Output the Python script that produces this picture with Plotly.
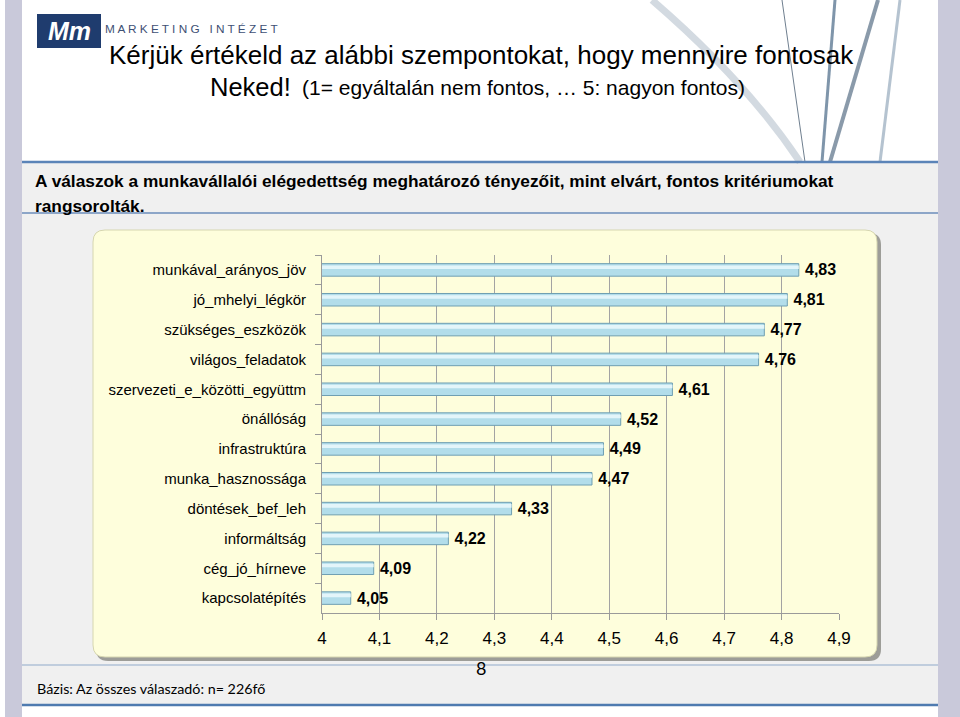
import plotly.graph_objects as go

# ---------------- data ----------------
categories = [
    "munkával_arányos_jöv",
    "jó_mhelyi_légkör",
    "szükséges_eszközök",
    "világos_feladatok",
    "szervezeti_e_közötti_együttm",
    "önállóság",
    "infrastruktúra",
    "munka_hasznossága",
    "döntések_bef_leh",
    "informáltság",
    "cég_jó_hírneve",
    "kapcsolatépítés",
]
values = [4.83, 4.81, 4.77, 4.76, 4.61, 4.52, 4.49, 4.47, 4.33, 4.22, 4.09, 4.05]
tick_values = [4.0, 4.1, 4.2, 4.3, 4.4, 4.5, 4.6, 4.7, 4.8, 4.9]
tick_labels = ["4", "4,1", "4,2", "4,3", "4,4", "4,5", "4,6", "4,7", "4,8", "4,9"]

value_labels = ["\u2009" + f"{v:.2f}".replace(".", ",") for v in values]

W, H = 960, 717
NARROW = "Liberation Sans Narrow, Arial Narrow, Liberation Sans, sans-serif"
SANS = "Liberation Sans, Arial, sans-serif"


def px(x):
    return x / W


def py(y):
    return 1 - y / H


def rect(x0, y0, x1, y1, fill, line=None, lw=0):
    return dict(type="rect", xref="paper", yref="paper", layer="below",
                x0=px(x0), x1=px(x1), y0=py(y1), y1=py(y0),
                fillcolor=fill, line=dict(color=line or fill, width=lw))


def hline(x0, x1, y, color, width):
    return dict(type="line", xref="paper", yref="paper", layer="below",
                x0=px(x0), x1=px(x1), y0=py(y), y1=py(y),
                line=dict(color=color, width=width))


def rounded(x0, y0, x1, y1, r):
    pts = [
        f"M {px(x0 + r)},{py(y0)}",
        f"L {px(x1 - r)},{py(y0)}",
        f"Q {px(x1)},{py(y0)} {px(x1)},{py(y0 + r)}",
        f"L {px(x1)},{py(y1 - r)}",
        f"Q {px(x1)},{py(y1)} {px(x1 - r)},{py(y1)}",
        f"L {px(x0 + r)},{py(y1)}",
        f"Q {px(x0)},{py(y1)} {px(x0)},{py(y1 - r)}",
        f"L {px(x0)},{py(y0 + r)}",
        f"Q {px(x0)},{py(y0)} {px(x0 + r)},{py(y0)} Z",
    ]
    return " ".join(pts)


shapes = []
# slide backgrounds
shapes.append(rect(22, 163, 938, 665, "#F0F0F0"))
shapes.append(rect(22, 665, 938, 705, "#F0F0F0"))
shapes.append(rect(5, 0, 22, 717, "#C9C9DA"))
shapes.append(rect(938, 0, 960, 717, "#C9C9DA"))
# decorative strokes in header
shapes.append(dict(type="path", xref="paper", yref="paper", layer="below",
                   path=f"M {px(652)},{py(0)} Q {px(745)},{py(80)} {px(800)},{py(162)}",
                   line=dict(color="rgba(175,188,200,0.55)", width=7)))
for (xa, xb, col, w) in [(782, 805, "#6F7F8F", 1), (835, 822, "#7F95AA", 3),
                         (878, 830, "#8A9AAA", 4), (900, 880, "#B5C3D0", 3)]:
    shapes.append(dict(type="line", xref="paper", yref="paper", layer="below",
                       x0=px(xa), x1=px(xb), y0=py(0), y1=py(162),
                       line=dict(color=col, width=w)))
# separator lines
shapes.append(hline(22, 938, 162, "#5B84B8", 2.5))
shapes.append(hline(22, 938, 213, "#6C8EBB", 1.5))
shapes.append(hline(22, 938, 665, "#8FA9C9", 1.2))
shapes.append(hline(22, 938, 705, "#4F7BB0", 2.5))
# logo
shapes.append(rect(37, 14, 101, 48, "#1F3C6E"))
# chart frame with shadow
shapes.append(dict(type="path", xref="paper", yref="paper", layer="below",
                   path=rounded(96, 233, 881, 661, 12),
                   fillcolor="rgba(90,90,80,0.55)", line=dict(width=0)))
shapes.append(dict(type="path", xref="paper", yref="paper", layer="below",
                   path=rounded(93, 230, 877, 657, 12),
                   fillcolor="#FEFEDC", line=dict(color="#D6D6B0", width=1)))

fig = go.Figure()
fig.add_trace(go.Bar(
    y=categories, x=values, orientation="h",
    width=0.42, offset=-0.21,
    marker=dict(color="#B2DDEA", line=dict(color="#6F9FB2", width=1)),
    text=value_labels, textposition="outside", cliponaxis=False,
    constraintext="none",
    textfont=dict(family=NARROW, size=16, color="#000000", weight="bold"),
    hoverinfo="skip", showlegend=False,
))
fig.add_trace(go.Bar(
    y=categories, x=values, orientation="h",
    width=0.12, offset=-0.15,
    marker=dict(color="#E3F5FA", line=dict(width=0)),
    hoverinfo="skip", showlegend=False,
))

annotations = [
    dict(text="Kérjük értékeld az alábbi szempontokat, hogy mennyire fontosak",
         x=px(481), y=py(55), xanchor="center", yanchor="middle",
         font=dict(family=SANS, size=26, color="#000000")),
    dict(text="Neked!", x=px(293), y=py(87), xanchor="right", yanchor="middle",
         font=dict(family=SANS, size=25.5, color="#000000")),
    dict(text="(1= egyáltalán nem fontos, … 5: nagyon fontos)", x=px(300), y=py(88),
         xanchor="left", yanchor="middle",
         font=dict(family=SANS, size=21, color="#000000")),
    dict(text="A válaszok a munkavállalói elégedettség meghatározó tényezőit, mint elvárt, fontos kritériumokat",
         x=px(33), y=py(181), xanchor="left", yanchor="middle",
         font=dict(family=NARROW, size=17.3, color="#000000", weight="bold")),
    dict(text="rangsorolták.", x=px(33), y=py(206), xanchor="left", yanchor="middle",
         font=dict(family=NARROW, size=17.3, color="#000000", weight="bold")),
    dict(text="<i>Mm</i>", x=px(69), y=py(31), xanchor="center", yanchor="middle",
         font=dict(family=SANS, size=25, color="#FFFFFF", weight="bold")),
    dict(text="M A R K E T I N G   I N T É Z E T", x=px(103), y=py(29),
         xanchor="left", yanchor="middle",
         font=dict(family=SANS, size=11.8, color="#3E5074")),
    dict(text="Bázis: Az összes válaszadó: n= 226fő", x=px(35), y=py(688),
         xanchor="left", yanchor="middle",
         font=dict(family="Lato, Open Sans, sans-serif", size=14.3, color="#000000")),
    dict(text="8", x=px(481), y=py(668), xanchor="center", yanchor="middle",
         font=dict(family="Lato, Open Sans, sans-serif", size=18, color="#000000")),
]
for a in annotations:
    a.update(xref="paper", yref="paper", showarrow=False)

fig.update_layout(
    width=W, height=H,
    margin=dict(l=0, r=0, t=0, b=0),
    paper_bgcolor="#FFFFFF",
    plot_bgcolor="rgba(0,0,0,0)",
    barmode="overlay",
    shapes=shapes,
    annotations=annotations,
    showlegend=False,
    xaxis=dict(
        domain=[px(322), px(839)],
        range=[4, 4.9],
        tickvals=tick_values, ticktext=tick_labels,
        showgrid=True, gridcolor="#A3A3A3", gridwidth=1,
        showline=True, linecolor="#9A9A9A", linewidth=1,
        ticks="outside", ticklen=6, tickcolor="#9A9A9A",
        tickfont=dict(family=NARROW, size=17, color="#000000"),
        ticklabelstandoff=4,
        zeroline=False, automargin=False, fixedrange=True,
    ),
    yaxis=dict(
        domain=[py(613), py(255)],
        type="category",
        categoryorder="array", categoryarray=categories,
        autorange="reversed",
        tickson="boundaries",
        showline=True, linecolor="#9A9A9A", linewidth=1,
        ticks="outside", ticklen=6, tickcolor="#9A9A9A",
        tickfont=dict(family=NARROW, size=15, color="#000000"),
        ticklabelstandoff=12,
        showgrid=False, automargin=False, fixedrange=True,
    ),
)

fig.write_html("out.html",
               config={"displayModeBar": False},
               post_script="document.body.style.margin='0';document.body.style.overflow='hidden';")
